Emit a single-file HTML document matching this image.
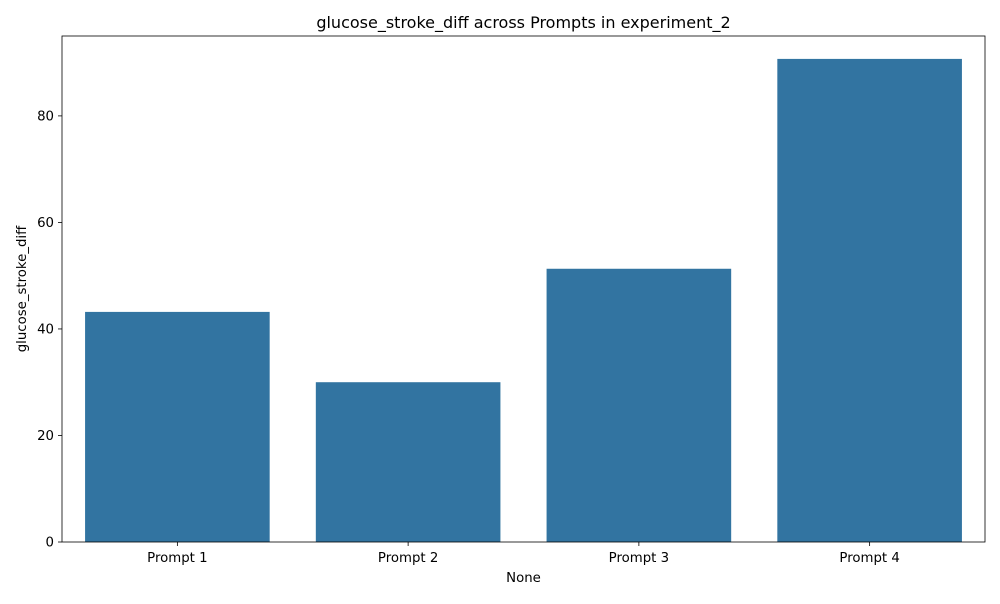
<!DOCTYPE html>
<html><head><meta charset="utf-8"><style>
body{margin:0;background:#fff;font-family:"DejaVu Sans","Liberation Sans",sans-serif;}
</style></head><body>
<svg id="chart" width="1000" height="600" xmlns="http://www.w3.org/2000/svg" font-family="DejaVu Sans, Liberation Sans, sans-serif"></svg>
<script>
const categories = ["Prompt 1","Prompt 2","Prompt 3","Prompt 4"];
const values = [43.2, 30.0, 51.3, 90.7];
const yTicks = [0,20,40,60,80];
const yMax = 95.0;
const svg = document.getElementById('chart');
const NS = 'http://www.w3.org/2000/svg';
const L=62,R=985,T=36,B=542;
const y = v => B - v/yMax*(B-T);
const band=(R-L)/categories.length;
const x = i => L + band*i + band*0.1;
function mk(tag, attrs, text){const e=document.createElementNS(NS,tag);for(const k in attrs)e.setAttribute(k,attrs[k]);if(text!==undefined)e.textContent=text;svg.appendChild(e);return e;}
categories.forEach((c,i)=>{
  const r=mk('rect',{x:x(i),y:y(values[i]),width:band*0.8,height:B-y(values[i]),fill:'#3274a1'});
  
  
  const cx=L+band*(i+0.5);
  mk('line',{x1:cx,x2:cx,y1:B,y2:B+4,stroke:'#000','stroke-width':0.8});
  const t=mk('text',{x:cx,y:B+20,'text-anchor':'middle','font-size':13.3},c);
  
  
});
yTicks.forEach(v=>{
  mk('line',{x1:L-4,x2:L,y1:y(v),y2:y(v),stroke:'#000','stroke-width':0.8});
  const t=mk('text',{x:L-8,y:y(v)+4.5,'text-anchor':'end','font-size':13.3},v);
  
  
});
const f=mk('rect',{x:L,y:T,width:R-L,height:B-T,fill:'none',stroke:'#000','stroke-width':0.8});


const ti=mk('text',{x:(L+R)/2,y:T-8,'text-anchor':'middle','font-size':16},'glucose_stroke_diff across Prompts in experiment_2');


const xt=mk('text',{x:(L+R)/2,y:582,'text-anchor':'middle','font-size':13.3},'None');


const yt=mk('text',{x:0,y:0,'text-anchor':'middle','font-size':13.3,transform:'translate(26,'+((T+B)/2)+') rotate(-90)'},'glucose_stroke_diff');


</script>
</body></html>
